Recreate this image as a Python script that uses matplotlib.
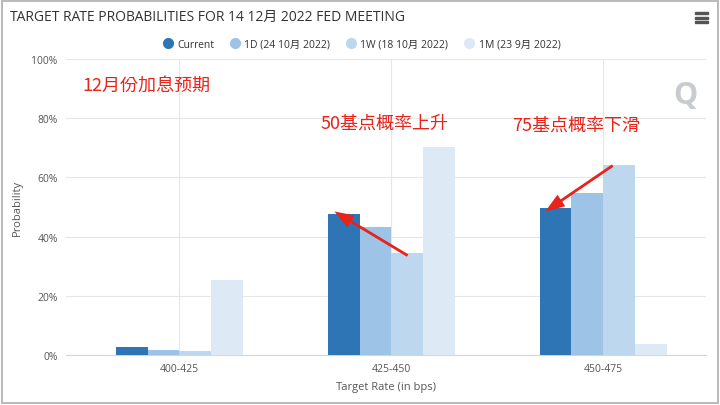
import matplotlib
matplotlib.use("Agg")
import matplotlib.pyplot as plt
import numpy as np
from matplotlib.patches import Rectangle, FancyArrowPatch
from matplotlib.lines import Line2D
from matplotlib import font_manager as fm

cjk_names = sorted({f.name for f in fm.fontManager.ttflist if "CJK" in f.name})
cjk = next((n for n in cjk_names if n.endswith("SC")), cjk_names[0] if cjk_names else "DejaVu Sans")
plt.rcParams['font.family'] = ['Open Sans', cjk]

categories = ["400-425", "425-450", "450-475"]
series_names = ["Current", "1D (24 10月 2022)", "1W (18 10月 2022)", "1M (23 9月 2022)"]
current = [2.8, 47.5, 49.6]
d1 = [1.8, 43.2, 54.8]
w1 = [1.3, 34.4, 64.3]
m1 = [25.5, 70.4, 3.8]
colors = ["#2e75b6", "#9dc3e6", "#bdd7ee", "#ddeaf6"]

W, H = 720, 406
fig = plt.figure(figsize=(7.2, 4.06), dpi=100)
fig.patches.append(Rectangle((2/W, 2/H), 716/W, 402/H, transform=fig.transFigure,
                             fill=False, edgecolor="#bbbbbb", lw=1.5))
ax = fig.add_axes([66/W, 1-356/H, (706-66)/W, (356-60)/H])
x = np.arange(len(categories))
bw = 0.15
for i, (vals, c, n) in enumerate(zip([current, d1, w1, m1], colors, series_names)):
    ax.bar(x + (i-1.5)*bw, vals, bw, color=c, label=n, zorder=3)
ax.set_xlim(-0.535, 2.485)
ax.set_ylim(0, 100)
ax.set_yticks(range(0, 101, 20))
ax.set_yticklabels([f"{v}%" for v in range(0, 101, 20)], fontsize=7.5, color="#555")
ax.set_xticks(x)
ax.set_xticklabels(categories, fontsize=7.5, color="#555")
ax.grid(True, color="#e6e6e6", lw=0.8, zorder=0)
for s in ["top", "right", "left"]:
    ax.spines[s].set_visible(False)
ax.spines["bottom"].set_color("#ccd6eb")
ax.tick_params(length=0, pad=6)
ax.set_xlabel("Target Rate (in bps)", fontsize=8, color="#555", labelpad=5)
ax.set_ylabel("Probability", fontsize=8, color="#555", labelpad=6)

fig.text(10/W, 1-17/H, "TARGET RATE PROBABILITIES FOR 14 12月 2022 FED MEETING",
         fontsize=10, color="#333", va="center")
for k in range(3):
    fig.patches.append(Rectangle((695/W, 1-(15+k*4.5)/H), 13/W, 2/H, transform=fig.transFigure, color="#555"))
handles = [Line2D([], [], marker="o", ls="", markersize=7, color=c) for c in colors]
fig.legend(handles, series_names, loc="center", bbox_to_anchor=(362/W, 1-45/H), ncol=4, frameon=False,
           fontsize=7.5, handlelength=0.8, columnspacing=1.6,
           handletextpad=0.5, labelcolor="#333")
fig.text(685/W, 1-96/H, "Q", fontsize=22, color="#c8ccd0", ha="center", va="center", fontweight="bold")

red = "#e8231a"
fig.text(82/W, 1-86/H, "12月份加息预期", fontsize=13, color=red, va="center", family=cjk)
fig.text(385/W, 1-124/H, "50基点概率上升", fontsize=13, color=red, va="center", ha="center", family=cjk)
fig.text(576/W, 1-126/H, "75基点概率下滑", fontsize=13, color=red, va="center", ha="center", family=cjk)
for (x0, y0, x1, y1) in [(410, 258, 332, 211), (615, 165, 543, 214)]:
    fig.patches.append(FancyArrowPatch((x0/W, 1-y0/H), (x1/W, 1-y1/H), transform=fig.transFigure,
                                       arrowstyle="simple,head_length=14,head_width=10,tail_width=2",
                                       color=red, lw=0))
fig.savefig("out.png", dpi=100)
